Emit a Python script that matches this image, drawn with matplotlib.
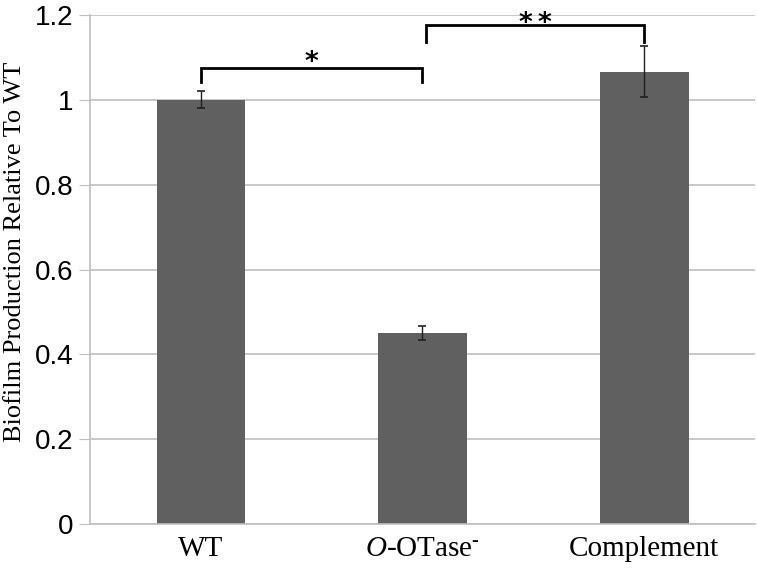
import matplotlib
matplotlib.use('Agg')
import matplotlib.pyplot as plt

categories = ['WT', '$\\mathit{O}$-OTase$^{\\text{-}}$', 'Complement']
values = [1.0, 0.45, 1.066]
errors = [0.02, 0.017, 0.06]

# significance brackets: (left x, right x, top, leg bottom, star y, label)
brackets = [(0, 1, 1.075, 1.042, 1.087, '*'),
            (1.014, 2, 1.177, 1.137, 1.179, '*\u2009*')]

plt.rcParams['mathtext.fontset'] = 'custom'
plt.rcParams['mathtext.rm'] = 'Liberation Serif'
plt.rcParams['mathtext.it'] = 'Liberation Serif:italic'

fig = plt.figure(figsize=(7.57, 5.69), dpi=100)
ax = fig.add_axes([90 / 757, 45 / 569, 665 / 757, 509 / 569])

x = range(len(categories))
ax.bar(x, values, width=0.4, color='#606060', zorder=2)
ax.errorbar(x, values, yerr=errors, fmt='none', ecolor='#202020',
            elinewidth=1, capsize=3, capthick=1.2, zorder=3)

for xl, xr, top, low, ys, label in brackets:
  ax.plot([xl, xl, xr, xr], [low, top, top, low], color='black', lw=2,
          solid_joinstyle='miter', zorder=4)
  ax.text((xl + xr) / 2, ys, label, ha='center', va='center',
          fontsize=19, fontweight='bold', family='DejaVu Sans', zorder=5)

ax.set_xlim(-0.5, 2.5)
ax.set_ylim(0, 1.2)
ax.set_yticks([0, 0.2, 0.4, 0.6, 0.8, 1.0, 1.2])
ax.set_yticklabels(['0', '0.2', '0.4', '0.6', '0.8', '1', '1.2'],
                   family='Liberation Sans', fontsize=20)
ax.set_xticks(list(x))
ax.set_xticklabels(categories, family='Liberation Serif', fontsize=21)
ax.tick_params(axis='x', length=0, pad=9)
ax.tick_params(axis='y', length=8, color='#bfbfbf', pad=4)
ax.yaxis.grid(True, color='#bfbfbf', lw=1.2, zorder=0)
ax.set_axisbelow(True)
for side in ['top', 'right']:
  ax.spines[side].set_visible(False)
for side in ['left', 'bottom']:
  ax.spines[side].set_color('#bfbfbf')
  ax.spines[side].set_linewidth(1.2)

ax.set_ylabel('Biofilm Production Relative To WT', family='Liberation Serif',
              fontsize=19, va='center')
ax.yaxis.set_label_coords(-75 / 665, 272 / 509)

fig.savefig('out.png', dpi=100)
